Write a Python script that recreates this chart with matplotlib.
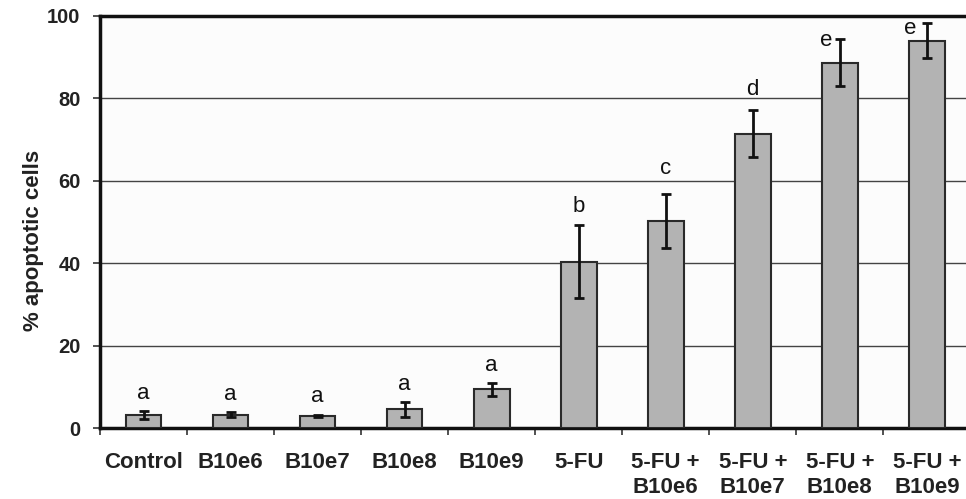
import matplotlib
matplotlib.use("Agg")
import matplotlib.pyplot as plt
import numpy as np

categories = ["Control", "B10e6", "B10e7", "B10e8", "B10e9", "5-FU",
              "5-FU +\nB10e6", "5-FU +\nB10e7", "5-FU +\nB10e8", "5-FU +\nB10e9"]
values = [3.2, 3.2, 2.9, 4.5, 9.4, 40.4, 50.3, 71.4, 88.7, 94.0]
errors = [0.9, 0.6, 0.3, 1.8, 1.6, 8.8, 6.5, 5.7, 5.8, 4.3]
letters = ["a", "a", "a", "a", "a", "b", "c", "d", "e", "e"]
yticks = [0, 20, 40, 60, 80, 100]

# letter placement styles (x shift in points, baseline gap in points)
letter_dx = [0, 0, 0, 0, 0, 0, 0, 0, -9.6, -11.8]
letter_dy = [9, 9, 9, 8.5, 8.5, 9.4, 14.4, 10.8, -5, -8]

plt.rcParams['font.family'] = ['Liberation Sans', 'DejaVu Sans']

fig = plt.figure(figsize=(9.66, 4.99), dpi=100)
fig.patch.set_facecolor("white")
ax = fig.add_axes([100/966, 1 - 428/499, 1 - 100/966, (428 - 16)/499])
ax.set_facecolor("#fcfcfc")

x = np.arange(len(categories))
ax.bar(x, values, width=0.41, color="#b3b3b3", edgecolor="#2a2a2a", linewidth=1.5, zorder=3)
ax.errorbar(x, values, yerr=errors, fmt="none", ecolor="#111111", elinewidth=2,
            capsize=3.8, capthick=2, zorder=4)

for i, (v, e, l) in enumerate(zip(values, errors, letters)):
    ax.annotate(l, xy=(x[i], v + e), xytext=(letter_dx[i], letter_dy[i]),
                textcoords="offset points", ha="center", va="baseline",
                fontsize=16, color="#111111")

ax.set_ylim(0, 100)
ax.set_xlim(-0.5, 9.45)
ax.set_yticks(yticks)
ax.set_yticklabels([str(t) for t in yticks], fontsize=14.5, fontweight="bold", color="#222222")
ax.yaxis.grid(True, color="#444444", linewidth=1.0, zorder=0)
ax.set_axisbelow(True)

ax.set_xticks(x)
ax.set_xticklabels(categories, fontsize=16, fontweight="bold", color="#222222",
                   linespacing=1.3)
ax.tick_params(axis="x", which="major", length=0, pad=17)
ax.set_xticks(np.arange(-0.5, 9.5, 1.0), minor=True)
ax.tick_params(axis="x", which="minor", length=5, width=1.2, direction="out", color="#333333")
ax.tick_params(axis="y", length=5, width=1.2, direction="out", color="#333333", pad=9)

ax.set_ylabel("% apoptotic cells", fontsize=16, fontweight="bold", color="#222222",
              labelpad=2, y=0.456)

for s in ["left", "top", "bottom"]:
    ax.spines[s].set_linewidth(2.5)
    ax.spines[s].set_color("#111111")
ax.spines["right"].set_visible(False)

fig.savefig("out.png", dpi=100)
